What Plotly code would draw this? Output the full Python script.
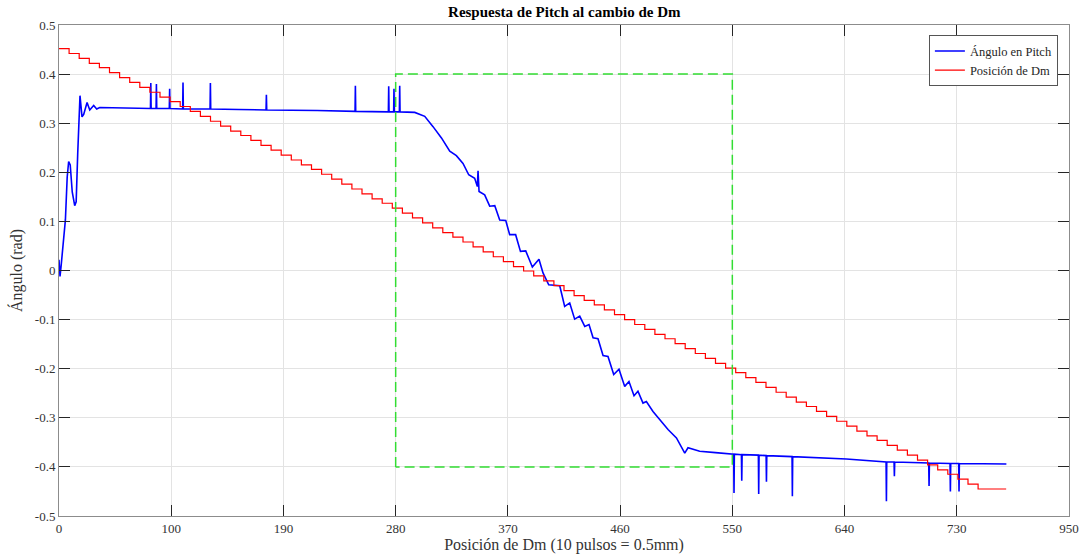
import plotly.graph_objects as go

# ---------------- data ----------------
# x axis ticks (evenly spaced positions, custom labels as in the original)
x_tickvals = [0, 100, 200, 300, 400, 500, 600, 700, 800, 900]
x_ticktext = ["0", "100", "190", "280", "370", "460", "550", "640", "730", "950"]
y_tickvals = [-0.5, -0.4, -0.3, -0.2, -0.1, 0.0, 0.1, 0.2, 0.3, 0.4, 0.5]
y_ticktext = ["-0.5", "-0.4", "-0.3", "-0.2", "-0.1", "0", "0.1", "0.2", "0.3", "0.4", "0.5"]

# Ángulo en Pitch (blue), including the short sensor spikes
pitch_x = [
    0.0, 0.9, 2.0, 5.7, 7.3, 8.6, 10.0, 11.8, 14.0, 15.3, 16.7, 18.7, 20.5, 22.0,
    25.0, 27.4, 30.9, 33.6, 36.3, 60.0,
    81.5, 81.8, 82.1, 86.5, 86.8, 87.1, 98.3, 98.6, 98.9, 110.2, 110.5, 110.8,
    134.6, 134.9, 135.2, 160.0, 184.5, 184.8, 185.1, 230.0, 263.8, 264.1, 264.4,
    293.5, 293.8, 294.1, 298.2, 298.5, 298.8, 303.3, 303.6, 303.9,
    317.0, 325.9, 333.3, 340.8, 348.2, 354.1, 360.0, 365.1, 370.4, 372.8, 373.4,
    374.3, 379.3, 383.8, 388.3, 392.7, 398.1, 401.6, 406.9, 411.2, 415.9, 421.8,
    427.7, 431.3, 436.4, 444.7, 446.2, 450.6, 455.1, 459.5, 464.0, 468.5, 472.3,
    475.9, 480.3, 484.8, 489.2, 494.3, 499.0, 504.1, 507.9, 512.4, 515.9, 520.4,
    523.4, 529.3, 535.3, 542.7, 550.2, 557.6, 560.5, 570.9, 585.0,
    601.2, 601.5, 601.8, 608.1, 608.4, 608.7, 623.2, 623.5, 623.8,
    630.1, 630.4, 630.7, 653.2, 653.5, 653.8, 701.6,
    737.0, 737.3, 737.6, 744.1, 744.4, 744.7, 775.0, 775.3, 775.6,
    794.0, 794.3, 794.6, 801.7, 802.0, 802.3, 844.2,
]
pitch_y = [
    0.022, -0.012, 0.012, 0.103, 0.190, 0.222, 0.215, 0.160, 0.132, 0.140, 0.240, 0.356, 0.313, 0.318,
    0.342, 0.327, 0.336, 0.329, 0.332, 0.331,
    0.330, 0.382, 0.330, 0.330, 0.380, 0.330, 0.330, 0.370, 0.330, 0.329, 0.383, 0.329,
    0.329, 0.382, 0.329, 0.328, 0.327, 0.358, 0.327, 0.326, 0.324, 0.376, 0.324,
    0.323, 0.375, 0.323, 0.323, 0.370, 0.323, 0.323, 0.376, 0.323,
    0.322, 0.314, 0.293, 0.270, 0.243, 0.234, 0.218, 0.195, 0.188, 0.171, 0.203,
    0.161, 0.154, 0.131, 0.132, 0.103, 0.102, 0.073, 0.073, 0.039, 0.040, 0.007,
    0.023, -0.005, -0.029, -0.031, -0.031, -0.073, -0.066, -0.099, -0.093, -0.114, -0.110,
    -0.137, -0.139, -0.173, -0.175, -0.212, -0.201, -0.236, -0.226, -0.255, -0.246, -0.270,
    -0.267, -0.287, -0.304, -0.324, -0.341, -0.372, -0.361, -0.368, -0.371,
    -0.374, -0.453, -0.374, -0.375, -0.428, -0.375, -0.376, -0.455, -0.376,
    -0.377, -0.430, -0.377, -0.379, -0.460, -0.379, -0.384,
    -0.390, -0.470, -0.390, -0.390, -0.419, -0.390, -0.392, -0.439, -0.392,
    -0.393, -0.450, -0.393, -0.393, -0.450, -0.393, -0.394,
]

# Posición de Dm (red staircase): step start positions and levels
dm_x = list(range(0, 820, 9)) + [844]
dm_y = [
    0.452, 0.442, 0.432, 0.422, 0.413, 0.403, 0.393, 0.383, 0.373, 0.363,
    0.353, 0.344, 0.334, 0.324, 0.314, 0.304, 0.294, 0.284, 0.275, 0.265,
    0.255, 0.245, 0.235, 0.225, 0.215, 0.206, 0.196, 0.186, 0.176, 0.166,
    0.156, 0.146, 0.137, 0.127, 0.117, 0.107, 0.097, 0.087, 0.077, 0.068,
    0.058, 0.048, 0.038, 0.028, 0.018, 0.008, -0.001, -0.011, -0.021, -0.031,
    -0.041, -0.051, -0.061, -0.070, -0.080, -0.090, -0.100, -0.110, -0.120, -0.130,
    -0.139, -0.149, -0.159, -0.169, -0.179, -0.189, -0.199, -0.208, -0.218, -0.228,
    -0.238, -0.248, -0.258, -0.268, -0.277, -0.287, -0.297, -0.307, -0.317, -0.327,
    -0.337, -0.346, -0.356, -0.366, -0.376, -0.386, -0.396, -0.406, -0.415, -0.425,
    -0.435, -0.445, -0.445,
]

# Green dashed region box
box_x = [300, 300, 600, 600, 300]
box_y = [-0.4, 0.4, 0.4, -0.4, -0.4]

# ---------------- figure ----------------
FONT = "Liberation Serif"
fig = go.Figure()

fig.add_trace(go.Scatter(
    x=pitch_x, y=pitch_y, mode="lines", name="Ángulo en Pitch",
    line=dict(color="#0000ff", width=1.6),
))
fig.add_trace(go.Scatter(
    x=dm_x, y=dm_y, mode="lines", name="Posición de Dm", line_shape="hv",
    line=dict(color="#ff0000", width=1.2),
))
fig.add_trace(go.Scatter(
    x=box_x, y=box_y, mode="lines", showlegend=False,
    line=dict(color="#33dd33", width=1.5, dash="10px,5px"),
))

axis_common = dict(
    showline=True, linecolor="#8c8c8c", linewidth=1, mirror="ticks",
    ticks="inside", ticklen=11, tickcolor="#262626", tickwidth=1,
    showgrid=True, gridcolor="#e3e3e3", gridwidth=1, zeroline=False,
    tickfont=dict(family=FONT, size=13, color="#333333"),
    automargin=False,
)

fig.update_layout(
    width=1081, height=559,
    margin=dict(l=59, r=12, t=25, b=43),
    paper_bgcolor="white", plot_bgcolor="white",
    title=dict(
        text="<b>Respuesta de Pitch al cambio de Dm</b>",
        font=dict(family=FONT, size=15, color="black"),
        x=(564.3 / 1081), xanchor="center", y=1 - 12 / 559, yanchor="middle",
        xref="container", yref="container", automargin=False,
    ),
    xaxis=dict(
        range=[0, 900], tickvals=x_tickvals, ticktext=x_ticktext,
        title=dict(text="Posición de Dm (10 pulsos = 0.5mm)", standoff=2,
                   font=dict(family=FONT, size=16, color="#333333")),
        **axis_common,
    ),
    yaxis=dict(
        range=[-0.5, 0.5], tickvals=y_tickvals, ticktext=y_ticktext,
        title=dict(text="Ángulo (rad)", standoff=8,
                   font=dict(family=FONT, size=16, color="#333333")),
        **axis_common,
    ),
    legend=dict(
        x=0.989, y=0.979, xanchor="right", yanchor="top",
        bgcolor="white", bordercolor="#555555", borderwidth=1,
        font=dict(family=FONT, size=12.5, color="#262626"),
        tracegroupgap=0, itemwidth=30,
    ),
    showlegend=True,
)

fig.write_html("out.html")
